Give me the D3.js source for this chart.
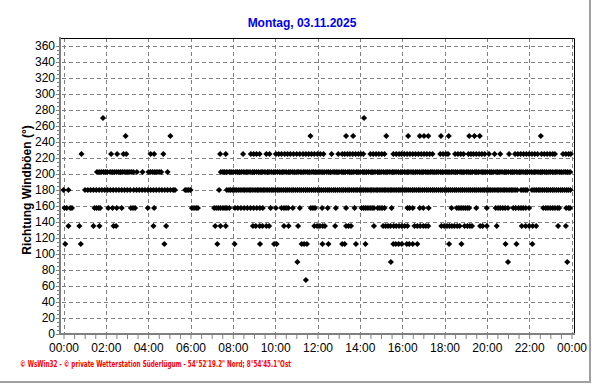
<!DOCTYPE html>
<html><head><meta charset="utf-8">
<script src="https://cdn.jsdelivr.net/npm/d3@7"></script>
<style>
body{margin:0;background:#fff}
svg{display:block}
text{font-family:"Liberation Sans",Arial,sans-serif}
</style>
</head><body>
<svg id="c" width="592" height="384"></svg>
<script>
// ---------- texts ----------
const chartTitle = "Montag, 03.11.2025";
const yAxisTitle = "Richtung Windböen  (°)";
const footerText = "© WsWin32  -  © private Wetterstation Süderlügum  -  54°52'19.2\" Nord; 8°54'45.1\"Ost";

// ---------- axes ----------
const yTicks = [0,20,40,60,80,100,120,140,160,180,200,220,240,260,280,300,320,340,360];
const xTickLabels = ["00:00","02:00","04:00","06:00","08:00","10:00","12:00","14:00","16:00","18:00","20:00","22:00","00:00"];

// ---------- data: gust direction (°) -> times of observation (minutes after midnight) ----------
const dir270 = [112, 852];
const dir247 = [176, 303, 700, 801, 821, 915, 977, 1010, 1022, 1034, 1070, 1092, 1150, 1165, 1180, 1353];
const dir225 = [51, 135, 152, 170, 178, 247, 257, 283,
  444, 460, 509, 531, 539, 547, 556, 575, 584,
  602, 610, 618, 627, 635, 643, 652, 661,
  670, 679, 687, 695, 703, 711, 720, 728, 737, 760,
  779, 790, 797, 805, 812, 820, 828, 836, 843, 850,
  870, 878, 886, 894, 902, 910,
  935, 943, 951, 958, 966, 974, 982, 990, 998, 1006, 1014, 1022, 1030, 1038, 1046,
  1068, 1076, 1084, 1090, 1110, 1118, 1126, 1134,
  1148, 1155, 1162, 1170, 1178, 1186, 1194, 1206, 1222, 1238, 1263,
  1280, 1288, 1296, 1304, 1312, 1320, 1328, 1336, 1344,
  1355, 1363, 1371, 1379, 1387, 1393, 1416, 1424, 1432, 1438];
const dir202 = [95, 101, 107, 113, 119, 124, 132, 138, 144, 150, 156, 162, 168, 174, 180, 186, 192, 198, 208, 224,
  241, 247, 253, 259, 265, 271, 277, 295,
  446, 452, 457, 463, 470, 475, 481, 488, 493, 499, 505, 511, 518, 523, 529, 536, 541, 547, 553, 560, 565, 571,
  578, 583, 589, 596, 601, 607, 613, 620, 625, 631, 638, 643, 649, 655, 662, 667, 673, 680, 685, 691, 697, 704,
  709, 715, 722, 727, 733, 739, 746, 751, 757, 764, 769, 775, 781, 788, 793, 799, 806, 811, 817, 823, 830, 835,
  841, 848, 853, 859, 865, 872, 877, 883, 890, 895, 901, 907, 914, 919, 925, 932, 937, 943, 949, 956, 961, 967,
  974, 979, 985, 991, 998, 1003, 1009, 1016, 1021, 1027, 1033, 1040, 1045, 1051, 1058, 1063, 1069, 1075, 1082,
  1087, 1093, 1100, 1105, 1111, 1117, 1124, 1129, 1135, 1142, 1147, 1153, 1159, 1166, 1171, 1177, 1184, 1189,
  1195, 1201, 1208, 1213, 1219, 1226, 1231, 1237, 1243, 1250, 1255, 1261, 1268, 1273, 1279, 1285, 1292, 1297,
  1303, 1310, 1315, 1321, 1327, 1334, 1339, 1345, 1352, 1357, 1363, 1369, 1376, 1381, 1387, 1394, 1399, 1405,
  1411, 1418, 1423, 1429, 1436];
const dir180 = [0, 14, 61, 69, 77, 85, 93, 101, 109, 117, 125, 133, 141, 149, 157, 165, 173, 181, 189, 199, 207,
  215, 223, 231, 239, 247, 255, 263, 271, 279, 287, 295, 303, 311, 316, 345, 350, 355, 360,
  441, 463, 469, 474, 480, 486, 491, 497, 503, 509, 514, 520, 526, 531, 537, 543, 549, 554, 560, 566, 571, 577,
  583, 589, 594, 600, 606, 611, 617, 623, 629, 634, 640, 646, 651, 657, 663, 669, 674, 680, 686, 691, 697, 703,
  709, 714, 720, 726, 731, 737, 743, 749, 754, 760, 766, 771, 777, 783, 789, 794, 800, 806, 811, 817, 823, 829,
  834, 840, 846, 851, 857, 863, 869, 874, 880, 886, 891, 897, 903, 909, 914, 920, 926, 931, 937, 943, 949, 954,
  960, 966, 971, 977, 983, 989, 994, 1000, 1006, 1011, 1017, 1023, 1029, 1034, 1040, 1046, 1051, 1057, 1063,
  1069, 1074, 1080, 1086, 1091, 1097, 1103, 1109, 1114, 1120, 1126, 1131, 1137, 1143, 1149, 1154, 1160, 1166,
  1171, 1177, 1183, 1189, 1194, 1200, 1206, 1211, 1217, 1223, 1229, 1234, 1240, 1246, 1251, 1257, 1263, 1269,
  1274, 1280, 1286, 1297, 1303, 1309, 1314, 1328, 1334, 1340, 1346, 1351, 1357, 1363, 1369, 1374, 1380, 1386,
  1391, 1397, 1403, 1409, 1414, 1420, 1426, 1431, 1437];
const dir157 = [3, 9, 19, 24, 88, 94, 100, 104, 127, 139, 151, 165, 191, 197, 203, 239, 257, 364, 370, 376, 381,
  427, 433, 439, 445, 452, 458, 463, 470, 486, 494, 503, 512, 521, 530, 539, 548, 557, 565, 587, 602,
  618, 625, 631, 637, 650, 670, 701, 707, 713, 733, 749, 772, 801, 825,
  845, 851, 857, 863, 869, 875, 880, 891, 897, 903, 910, 930, 975, 981, 990, 1010, 1020, 1035,
  1100, 1115, 1121, 1127, 1133, 1139, 1145, 1150, 1170, 1200, 1225, 1232, 1238, 1245, 1252, 1260,
  1275, 1282, 1290, 1297, 1303, 1310, 1320, 1360, 1367, 1373, 1380, 1387, 1393, 1400, 1405, 1425, 1432, 1436];
const dir135 = [14, 45, 85, 102, 142, 149, 255, 291, 430, 445, 460, 537, 545, 556, 564, 575, 583, 625, 638, 665,
  711, 719, 727, 735, 741, 770, 801, 808, 815, 880, 906, 913, 920, 927, 936, 943, 951, 959, 967, 975,
  995, 1003, 1011, 1020, 1027, 1034, 1071, 1079, 1087, 1094, 1101, 1108, 1116, 1123, 1137, 1145, 1152, 1158,
  1181, 1188, 1200, 1228, 1299, 1310, 1320, 1330, 1340, 1402, 1424];
const dir112 = [5, 49, 286, 436, 485, 557, 597, 604, 675, 682, 690, 734, 751, 790, 797, 829, 856,
  935, 942, 950, 959, 973, 980, 990, 1003, 1093, 1128, 1253, 1284, 1329];
const dir90 = [663, 928, 1260, 1428];
const dir67 = [687];

const directions = [270, 247.5, 225, 202.5, 180, 157.5, 135, 112.5, 90, 67.5];
const timesByDirection = [dir270, dir247, dir225, dir202, dir180, dir157, dir135, dir112, dir90, dir67];

// ---------- layout ----------
const svg = d3.select("#c");
const pLeft = 60, pRight = 574, pTop = 38, pBottom = 334;
const x = d3.scaleLinear().domain([0, 1440]).range([63.5, 571.5]);
const y = d3.scaleLinear().domain([0, 360]).range([334, 46]);
const xTickVals = xTickLabels.map((d, i) => i * 120);

svg.append("rect").attr("width", 592).attr("height", 384).attr("fill", "#fff");

// window border
svg.append("line").attr("x1", 590).attr("x2", 590).attr("y1", 0).attr("y2", 383)
  .attr("stroke", "#a0a0a0").attr("stroke-width", 2);
svg.append("line").attr("x1", 0).attr("x2", 591).attr("y1", 382).attr("y2", 382)
  .attr("stroke", "#a0a0a0").attr("stroke-width", 2);

// title
svg.append("text").attr("x", 302).attr("y", 27).attr("text-anchor", "middle")
  .attr("font-size", 12).attr("font-weight", "bold").attr("fill", "#0000ee").text(chartTitle);

// grid
const grid = svg.append("g").attr("stroke", "#808080").attr("stroke-width", 1).attr("stroke-dasharray", "4,3");
grid.selectAll("line.h").data(yTicks.filter(d => d > 0)).join("line").attr("class", "h")
  .attr("x1", 62).attr("x2", pRight).attr("y1", d => Math.round(y(d)) + 0.5).attr("y2", d => Math.round(y(d)) + 0.5);
grid.selectAll("line.v").data(xTickVals).join("line").attr("class", "v")
  .attr("y1", pTop).attr("y2", pBottom).attr("x1", d => Math.round(x(d)) + 0.5).attr("x2", d => Math.round(x(d)) + 0.5);

// frame (top/right black)
svg.append("path").attr("d", `M${pLeft},${pTop + 0.5}H${pRight + 0.5}V${pBottom}`)
  .attr("fill", "none").attr("stroke", "#000").attr("stroke-width", 1);

// y axis (major ticks + labels)
const yAxisG = svg.append("g").attr("transform", `translate(${pLeft - 1},0)`)
  .call(d3.axisLeft(y).tickValues(yTicks).tickSize(3).tickPadding(1).tickFormat(d3.format("d")));
yAxisG.select(".domain").remove();
yAxisG.selectAll("text").attr("font-size", 12).attr("font-family", "Liberation Sans, Arial, sans-serif").attr("fill", "#000");
yAxisG.selectAll(".tick line").attr("stroke", "#808080");
// minor y ticks
const yMinor = svg.append("g").attr("transform", `translate(${pLeft - 1},0)`)
  .call(d3.axisLeft(y).tickValues(d3.range(0, 361, 5).filter(v => v % 20)).tickSize(2).tickFormat(""));
yMinor.select(".domain").remove();
yMinor.selectAll(".tick line").attr("stroke", "#808080");

// x axis
const xAxisG = svg.append("g").attr("transform", `translate(0,${pBottom + 1})`)
  .call(d3.axisBottom(x).tickValues(d3.range(0, 1441, 30)).tickSize(4).tickPadding(4)
    .tickFormat(d => d % 120 === 0 ? xTickLabels[d / 120] : ""));
xAxisG.select(".domain").remove();
xAxisG.selectAll("text").attr("font-size", 12).attr("font-family", "Liberation Sans, Arial, sans-serif").attr("fill", "#000");
xAxisG.selectAll(".tick line").attr("stroke", "#808080");

// gray axis bars
svg.append("line").attr("x1", pLeft).attr("x2", pLeft).attr("y1", pTop - 1).attr("y2", pBottom + 1)
  .attr("stroke", "#808080").attr("stroke-width", 2);
svg.append("line").attr("x1", pLeft - 1).attr("x2", pRight + 1).attr("y1", pBottom).attr("y2", pBottom)
  .attr("stroke", "#808080").attr("stroke-width", 2);

// y title
svg.append("text").attr("transform", "translate(31,190) rotate(-90)").attr("text-anchor", "middle")
  .attr("font-size", 12).attr("font-weight", "bold").attr("fill", "#000").text(yAxisTitle);

// points
const pts = [];
directions.forEach((dir, i) => timesByDirection[i].forEach(t => pts.push({ t, dir })));
const sym = d3.symbol().type(d3.symbolDiamond2).size(24);
svg.append("g").selectAll("path").data(pts).join("path")
  .attr("transform", d => `translate(${x(d.t)},${y(d.dir)})`)
  .attr("d", sym).attr("fill", "#000");

// footer
svg.append("text").attr("x", 20).attr("y", 367).attr("font-size", 8).attr("font-weight", "bold")
  .attr("fill", "#ff0000").attr("textLength", 271).attr("lengthAdjust", "spacingAndGlyphs")
  .style("font-family", "DejaVu Sans, sans-serif").text(footerText);
</script>
</body></html>
